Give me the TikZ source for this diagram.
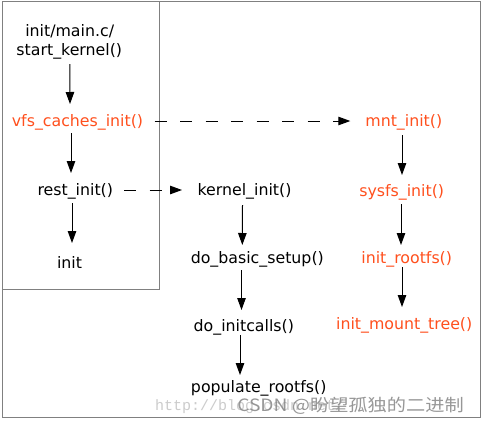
\documentclass[tikz,border=0pt]{standalone}
\usepackage{fontspec}
\setmainfont{DejaVu Sans}
\newfontfamily\cjkfont{Noto Sans CJK SC}
\newfontfamily\monofont{Liberation Mono}
\usetikzlibrary{arrows.meta}
\definecolor{fnred}{RGB}{255,80,30}
\definecolor{framegray}{RGB}{128,128,128}
\begin{document}
\begin{tikzpicture}[x=1pt,y=-1pt,
  fn/.style={inner sep=0pt, text height=11pt, text depth=0pt, anchor=center,
    font=\fontsize{15.8}{18}\selectfont},
  hot/.style={fn, text=fnred},
  arr/.style={line width=1pt, -{Triangle[length=12pt,width=8.5pt]}},
  darr/.style={arr, dash pattern=on 12pt off 13.5pt},
  frame/.style={draw=framegray, line width=1pt}]
\useasboundingbox (0,0) rectangle (486,426);
\fill[white] (0,0) rectangle (486,426);
% frames
\draw[frame] (2.5,1) rectangle (480.3,417.7);
\draw[frame] (2.5,1) rectangle (159.3,289.3);
% watermark
\node[inner sep=0pt, anchor=base west, text=black!20, font=\monofont\fontsize{15}{15}\selectfont] (wm1) at (155,410) {http://blog.csdn.net/};
\node[inner sep=0pt, anchor=base, text=black!48, opacity=0.85, xscale=1.13, transform shape, font=\cjkfont\fontsize{17}{17}\selectfont] (wm2) at (350.5,411.5) {CSDN @盼望孤独的二进制};
% nodes
\node[fn] (im) at (69.7,31) {init/main.c/};
\node[fn] (sk) at (69.3,49.5) {start\_kernel()};
\node[hot] (vfs) at (77.5,120.5) {vfs\_caches\_init()};
\node[fn] (rest) at (75.3,189.5) {rest\_init()};
\node[fn] (init) at (69.5,262.5) {init};
\node[hot] (mnt) at (403.8,121) {mnt\_init()};
\node[hot] (sysfs) at (401.7,191) {sysfs\_init()};
\node[hot] (rootfs) at (406.7,258) {init\_rootfs()};
\node[hot] (mount) at (404.2,323.5) {init\_mount\_tree()};
\node[fn] (kinit) at (244.5,189.5) {kernel\_init()};
\node[fn] (basic) at (257.3,258) {do\_basic\_setup()};
\node[fn] (calls) at (243.8,326) {do\_initcalls()};
\node[fn] (pop) at (258.7,387) {populate\_rootfs()};
% solid arrows
\draw[arr] ([shift={(0.5,14.5)}]sk.center) -- ([shift={(-7.5,-16.5)}]vfs.center);
\draw[arr] ([shift={(-6.5,12.5)}]vfs.center) -- ([shift={(-4.3,-16.5)}]rest.center);
\draw[arr] ([shift={(-3.3,13.5)}]rest.center) -- ([shift={(2.5,-19.5)}]init.center);
\draw[arr] ([shift={(-1.8,14)}]mnt.center) -- ([shift={(0.3,-16)}]sysfs.center);
\draw[arr] ([shift={(-0.7,13)}]sysfs.center) -- ([shift={(-5.7,-13)}]rootfs.center);
\draw[arr] ([shift={(-4.7,9)}]rootfs.center) -- ([shift={(-2.2,-16.5)}]mount.center);
\draw[arr] ([shift={(-2,15.5)}]kinit.center) -- ([shift={(-15,-13)}]basic.center);
\draw[arr] ([shift={(-15.8,12)}]basic.center) -- ([shift={(-2.3,-16)}]calls.center);
\draw[arr] ([shift={(-3.8,9)}]calls.center) -- ([shift={(-18.7,-12)}]pop.center);
% dashed arrows
\draw[darr] ([shift={(77,0.5)}]vfs.center) -- ([shift={(-53.5,0)}]mnt.center);
\draw[darr] ([shift={(48.7,0.5)}]rest.center) -- ([shift={(-62.5,0.5)}]kinit.center);
\end{tikzpicture}
\end{document}
